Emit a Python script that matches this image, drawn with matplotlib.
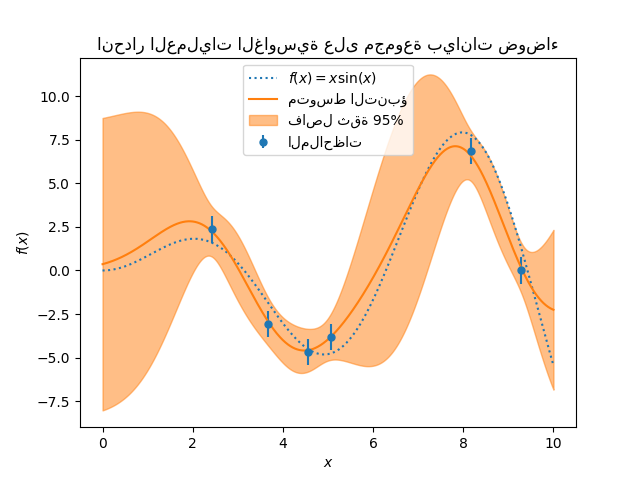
import numpy as np
import matplotlib
matplotlib.use("Agg")
import matplotlib.pyplot as plt

x_obs = np.array([2.43, 3.68, 4.55, 5.07, 8.18, 9.28])
y_obs = np.array([2.35, -3.05, -4.65, -3.8, 6.85, 0.0])
noise_std = 0.75
x = np.linspace(0, 10, 1000)

# GP posterior (RBF kernel)
sf2, ls = 4.3**2, 1.1
def k(a, b):
    return sf2 * np.exp(-0.5 * (a[:, None] - b[None, :])**2 / ls**2)
K = k(x_obs, x_obs) + noise_std**2 * np.eye(len(x_obs))
Ks = k(x, x_obs)
alpha = np.linalg.solve(K, y_obs)
mean = Ks @ alpha
var = sf2 - np.einsum('ij,ji->i', Ks, np.linalg.solve(K, Ks.T))
std = np.sqrt(np.maximum(var, 0))

fig, ax = plt.subplots(figsize=(6.4, 4.8), dpi=100)
ax.plot(x, x*np.sin(x), label=r"$f(x) = x \sin(x)$", linestyle="dotted")
ax.errorbar(x_obs, y_obs, noise_std, linestyle="None", color="tab:blue", marker=".", markersize=10, label="الملاحظات")
ax.plot(x, mean, label="متوسط التنبؤ")
ax.fill_between(x, mean - 1.96*std, mean + 1.96*std, color="tab:orange", alpha=0.5, label="فاصل ثقة 95%")
ax.legend()
ax.set_xlabel("$x$")
ax.set_ylabel("$f(x)$")
ax.set_title("انحدار العمليات الغاوسية على مجموعة بيانات ضوضاء")
fig.savefig("out.png")
